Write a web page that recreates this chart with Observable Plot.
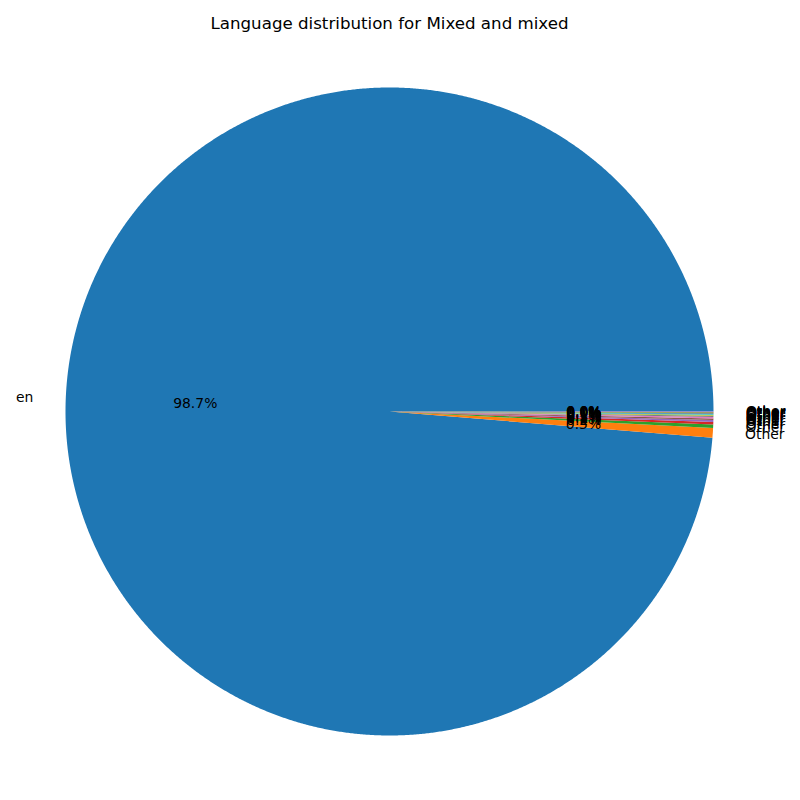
<!DOCTYPE html>
<html>
<head>
<meta charset="utf-8">
<script src="https://cdn.jsdelivr.net/npm/d3@7"></script>
<script src="https://cdn.jsdelivr.net/npm/@observablehq/plot@0.6"></script>
<style>
  html, body { margin: 0; padding: 0; background: white; }
</style>
</head>
<body>
<div id="chart"></div>
<script>
const title = "Language distribution for Mixed and mixed";
const labels = ["en", "Other", "Other", "Other", "Other", "Other", "Other", "Other", "Other", "Other", "Other", "Other", "Other", "Other", "Other"];
const values = [98.71, 0.48, 0.17, 0.12, 0.10, 0.08, 0.07, 0.06, 0.05, 0.04, 0.03, 0.03, 0.02, 0.02, 0.02];

const tab10 = ["#1f77b4", "#ff7f0e", "#2ca02c", "#d62728", "#9467bd", "#8c564b", "#e377c2", "#7f7f7f", "#bcbd22", "#17becf"];

const total = d3.sum(values);
let start = 0;
const slices = values.map((v, i) => {
  const a0 = start;
  const a1 = start + v / total * 360;
  start = a1;
  return { label: labels[i], value: v, a0, a1, color: tab10[i % 10], mid: (a0 + a1) / 2 };
});

const rad = d => d * Math.PI / 180;

function slicePoints(s) {
  const pts = [{ x: 0, y: 0 }];
  const n = Math.max(2, Math.ceil((s.a1 - s.a0) / 0.25));
  for (let k = 0; k <= n; k++) {
    const a = rad(s.a0 + (s.a1 - s.a0) * k / n);
    pts.push({ x: Math.cos(a), y: Math.sin(a) });
  }
  pts.push({ x: 0, y: 0 });
  return pts;
}

const sliceMarks = slices.map(s =>
  Plot.line(slicePoints(s), { x: "x", y: "y", fill: s.color, stroke: "none", curve: "linear" })
);

const nameLabels = slices.map(s => ({
  x: 1.1 * Math.cos(rad(s.mid)),
  y: 1.1 * Math.sin(rad(s.mid)),
  text: s.label,
  anchor: Math.cos(rad(s.mid)) > 0 ? "start" : "end"
}));

const pctLabels = slices.map(s => ({
  x: 0.6 * Math.cos(rad(s.mid)),
  y: 0.6 * Math.sin(rad(s.mid)),
  text: d3.format(".1f")(s.value / total * 100) + "%"
}));

const R = 324, cx = 389, cy = 411;

const chart = Plot.plot({
  width: 800,
  height: 800,
  margin: 0,
  style: { fontFamily: "DejaVu Sans, sans-serif", background: "white", color: "black" },
  x: { domain: [-cx / R, (800 - cx) / R], axis: null },
  y: { domain: [-(800 - cy) / R, cy / R], axis: null },
  marks: [
    ...sliceMarks,
    Plot.text(nameLabels.filter(d => d.anchor === "end"), { x: "x", y: "y", text: "text", textAnchor: "end", fontSize: 13.9, fill: "black" }),
    Plot.text(nameLabels.filter(d => d.anchor === "start"), { x: "x", y: "y", text: "text", textAnchor: "start", fontSize: 13.9, fill: "black" }),
    Plot.text(pctLabels, { x: "x", y: "y", text: "text", fontSize: 13.9, fill: "black" }),
    Plot.text([title], { x: 0, y: (cy - 23) / R, text: d => d, fontSize: 16.67, fill: "black" })
  ]
});

document.getElementById("chart").appendChild(chart);
</script>
</body>
</html>
